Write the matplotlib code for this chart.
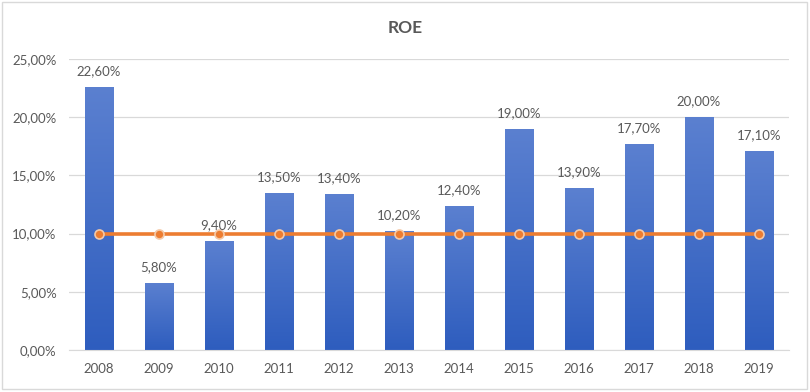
import matplotlib
matplotlib.use("Agg")
import matplotlib.pyplot as plt
import numpy as np
from matplotlib.patches import Rectangle

years = ['2008', '2009', '2010', '2011', '2012', '2013', '2014', '2015', '2016', '2017', '2018', '2019']
roe = [22.6, 5.8, 9.4, 13.5, 13.4, 10.2, 12.4, 19.0, 13.9, 17.7, 20.0, 17.1]
target = [10.0] * len(years)
yticks = [0, 5, 10, 15, 20, 25]

plt.rcParams['font.family'] = ['Lato', 'DejaVu Sans']
grey = '#595959'

fig = plt.figure(figsize=(8.1, 3.92), dpi=100)
ax = fig.add_axes([0.0852, 0.107, 0.8889, 0.7425])

x = np.arange(len(years))
w = 0.48
bars = ax.bar(x, roe, width=w, color='none', zorder=2)

# vertical gradient in each bar, lighter at top
grad = np.linspace(0, 1, 256).reshape(-1, 1)
cmap = matplotlib.colors.LinearSegmentedColormap.from_list('b', ['#2E5DBE', '#5B80D0'])
for b in bars:
    x0 = b.get_x()
    im = ax.imshow(grad, extent=[x0, x0 + b.get_width(), 0, b.get_height()],
                   origin='lower', aspect='auto', cmap=cmap, zorder=2)
    im.set_clip_path(b)

ax.plot(x, target, color='#ED7D31', lw=2.6, zorder=3, marker='o', markersize=6.5,
        markerfacecolor='#ED7D31', markeredgecolor='#F4C9A8', markeredgewidth=1.2)

for xi, v in zip(x, roe):
    ax.annotate(f'{v:.2f}%'.replace('.', ','), (xi, v), xytext=(0, 7),
                textcoords='offset points', ha='center', va='bottom',
                fontsize=9.5, color=grey, zorder=4)

ax.set_xlim(-0.5, len(years) - 0.5)
ax.set_ylim(0, 25)
ax.set_yticks(yticks)
ax.set_yticklabels([f'{t:.2f}%'.replace('.', ',') for t in yticks])
ax.set_xticks(x)
ax.set_xticklabels(years)
ax.tick_params(length=0, labelsize=9.5, labelcolor=grey, pad=9)
ax.grid(axis='y', color='#D9D9D9', lw=0.9, zorder=0)
ax.set_axisbelow(True)
for s in ['top', 'right', 'left']:
    ax.spines[s].set_visible(False)
ax.spines['bottom'].set_color('#D9D9D9')

fig.text(0.5, 0.928, 'ROE', ha='center', va='center', fontsize=12.5,
         fontweight='bold', color=grey)

fig.patches.append(Rectangle((0.002, 0.008), 0.994, 0.986, transform=fig.transFigure,
                             fill=False, edgecolor='#D9D9D9', lw=1))

fig.savefig('out.png', dpi=100)
